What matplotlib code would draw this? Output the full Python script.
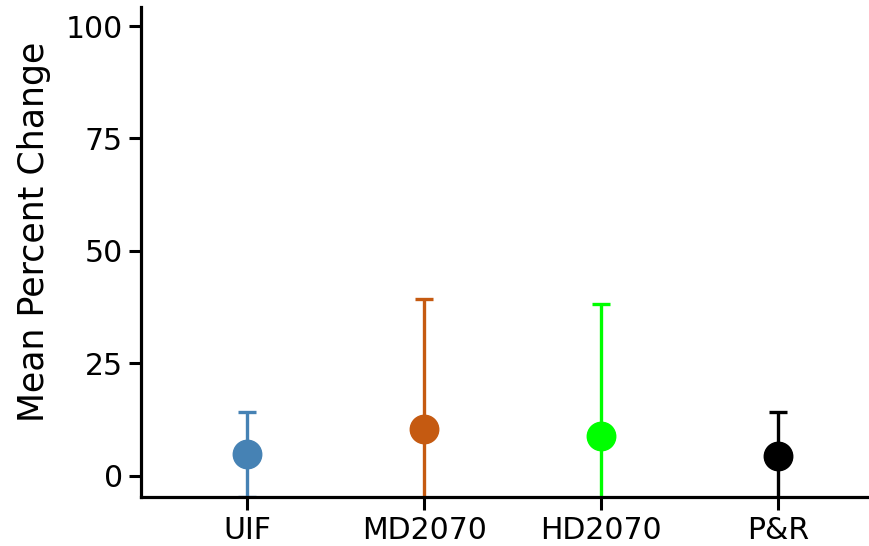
import matplotlib
matplotlib.use("Agg")
import matplotlib.pyplot as plt
import numpy as np

categories = ["UIF", "MD2070", "HD2070", "P&R"]
means = [4.7, 10.3, 8.8, 4.3]
errors = [9.4, 29.0, 29.4, 9.9]
colors = ["#4682B4", "#C55A11", "#00FF00", "#000000"]
yticks = [0, 25, 50, 75, 100]

plt.rcParams['font.family'] = ['DejaVu Sans']
fig = plt.figure(figsize=(8.69, 5.46), dpi=100)
ax = fig.add_axes([0.1623, 0.0903, 0.855, 0.8974])

x = np.arange(1, len(categories) + 1)
for xi, m, e, c in zip(x, means, errors, colors):
    ax.errorbar([xi], [m], yerr=[[e], [e]], fmt='o', color=c, ecolor=c,
                markersize=20.5, elinewidth=2.4, capsize=6.8, capthick=2.4,
                clip_on=True)

ax.set_xlim(0.4, 4.6)
ax.set_ylim(-4.7, 104.3)
ax.set_xticks(x)
ax.set_xticklabels(categories)
ax.set_yticks(yticks)
ax.set_ylabel("Mean Percent Change", fontsize=25)
ax.yaxis.set_label_coords(-0.121, 0.54)
ax.tick_params(axis='both', labelsize=21.5, length=9, width=2.2, color='black', pad=4)
ax.tick_params(axis='x', pad=5)
for s in ['top', 'right']:
    ax.spines[s].set_visible(False)
for s in ['left', 'bottom']:
    ax.spines[s].set_linewidth(2.3)

fig.savefig("out.png", dpi=100)
